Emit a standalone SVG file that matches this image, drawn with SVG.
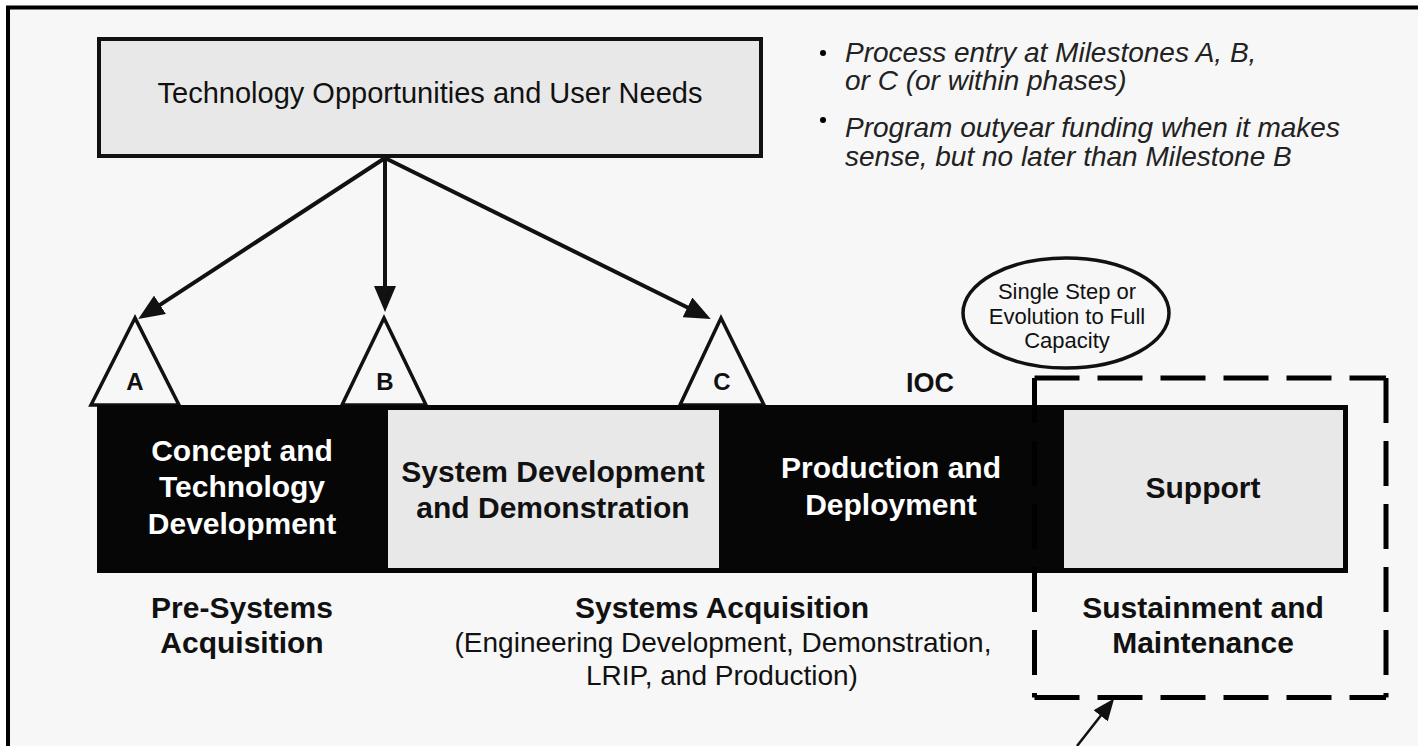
<svg xmlns="http://www.w3.org/2000/svg" width="1418" height="746" viewBox="0 0 1418 746">
  <style>
    text { font-family: "Liberation Sans", Arial, sans-serif; fill: #111; text-anchor: middle; }
    .b { font-weight: bold; font-size: 30px; }
    .w { fill: #fff; }
    .r { font-size: 28px; }
    .i { font-style: italic; font-size: 28px; text-anchor: start; fill: #222; }
    .ms { font-weight: bold; font-size: 24px; }
    .lt { fill: #e8e8e8; }
    .tri { fill: #f7f7f7; stroke: #111; stroke-width: 3.5; stroke-linejoin: miter; }
    .conn { stroke: #111; stroke-width: 4; fill: none; }
    .dash { stroke: #000; stroke-width: 5; stroke-dasharray: 45 18; fill: none; }
  </style>
  <defs>
    <marker id="ah" markerUnits="userSpaceOnUse" markerWidth="26" markerHeight="22" refX="12" refY="11" orient="auto">
      <path d="M0,0 L26,11 L0,22 z" fill="#111"/>
    </marker>
    <marker id="ah2" markerUnits="userSpaceOnUse" markerWidth="22" markerHeight="18" refX="10" refY="9" orient="auto">
      <path d="M0,0 L22,9 L0,18 z" fill="#111"/>
    </marker>
  </defs>

  <rect x="0" y="0" width="1418" height="746" fill="#f7f7f7"/>
  <rect x="0" y="0" width="1418" height="6" fill="#fff"/>
  <rect x="0" y="0" width="6" height="746" fill="#fff"/>
  <line x1="6" y1="7.5" x2="1418" y2="7.5" stroke="#000" stroke-width="4"/>
  <line x1="8" y1="6" x2="8" y2="746" stroke="#000" stroke-width="4"/>

  <g id="needs">
    <rect x="99" y="39" width="662" height="117" fill="#e8e8e8" stroke="#111" stroke-width="4"/>
    <text x="430" y="103" style="font-size:29px">Technology Opportunities and User Needs</text>
  </g>

  <g id="notes">
    <circle cx="823" cy="53" r="3"/>
    <text class="i" x="845" y="62">Process entry at Milestones A, B,</text>
    <text class="i" x="845" y="90">or C (or within phases)</text>
    <circle cx="823" cy="120" r="3"/>
    <text class="i" x="845" y="137">Program outyear funding when it makes</text>
    <text class="i" x="845" y="166">sense, but no later than Milestone B</text>
  </g>

  <g id="milestone-a">
    <polygon class="tri" points="135,318 91,405 179,405"/>
    <text class="ms" x="135" y="390">A</text>
  </g>
  <g id="milestone-b">
    <polygon class="tri" points="384,318 342,405 426,405"/>
    <text class="ms" x="385" y="390">B</text>
  </g>
  <g id="milestone-c">
    <polygon class="tri" points="721,318 680,405 764,405"/>
    <text class="ms" x="722" y="390">C</text>
  </g>

  <g id="phase-bar">
    <rect x="97" y="405" width="1251" height="168" fill="#060606"/>
  </g>
  <g id="concept">
    <text class="b w" x="242" y="461">Concept and</text>
    <text class="b w" x="242" y="497">Technology</text>
    <text class="b w" x="242" y="534">Development</text>
  </g>
  <g id="sdd">
    <rect class="lt" x="388" y="410" width="331" height="158"/>
    <text class="b" x="553" y="482">System Development</text>
    <text class="b" x="553" y="518">and Demonstration</text>
  </g>
  <g id="production">
    <text class="b w" x="891" y="478">Production and</text>
    <text class="b w" x="891" y="515">Deployment</text>
  </g>
  <g id="support">
    <rect class="lt" x="1064" y="410" width="279" height="158"/>
    <text class="b" x="1203" y="498">Support</text>
  </g>

  <g id="ioc">
    <text x="930" y="392" style="font-weight:bold;font-size:27px">IOC</text>
  </g>

  <g id="capacity">
    <ellipse cx="1066" cy="313" rx="103" ry="55" fill="none" stroke="#111" stroke-width="3.5"/>
    <text x="1067" y="299" style="font-size:22px">Single Step or</text>
    <text x="1067" y="324" style="font-size:22px">Evolution to Full</text>
    <text x="1067" y="348" style="font-size:22px">Capacity</text>
  </g>

  <g id="pre-systems">
    <text class="b" x="242" y="618">Pre-Systems</text>
    <text class="b" x="242" y="653">Acquisition</text>
  </g>
  <g id="systems-acq">
    <text class="b" x="722" y="618">Systems Acquisition</text>
    <text class="r" x="723" y="652">(Engineering Development, Demonstration,</text>
    <text class="r" x="722" y="685">LRIP, and Production)</text>
  </g>
  <g id="sustainment">
    <line class="dash" x1="1034.5" y1="378" x2="1386" y2="378"/>
    <line class="dash" x1="1386" y1="378" x2="1386" y2="697.5"/>
    <line class="dash" x1="1034.5" y1="697.5" x2="1386" y2="697.5"/>
    <line class="dash" x1="1034.5" y1="378" x2="1034.5" y2="697.5"/>
    <text class="b" x="1203" y="618">Sustainment and</text>
    <text class="b" x="1203" y="653">Maintenance</text>
  </g>

  <g id="connectors">
    <path class="conn" d="M385,158 L150,311.4" marker-end="url(#ah)"/>
    <path class="conn" d="M385,158 L385,298" marker-end="url(#ah)"/>
    <path class="conn" d="M385,158 L698.2,312.7" marker-end="url(#ah)"/>
    <path d="M1077,746 L1106.8,707.9" stroke="#111" stroke-width="2.5" fill="none" marker-end="url(#ah2)"/>
  </g>
</svg>
